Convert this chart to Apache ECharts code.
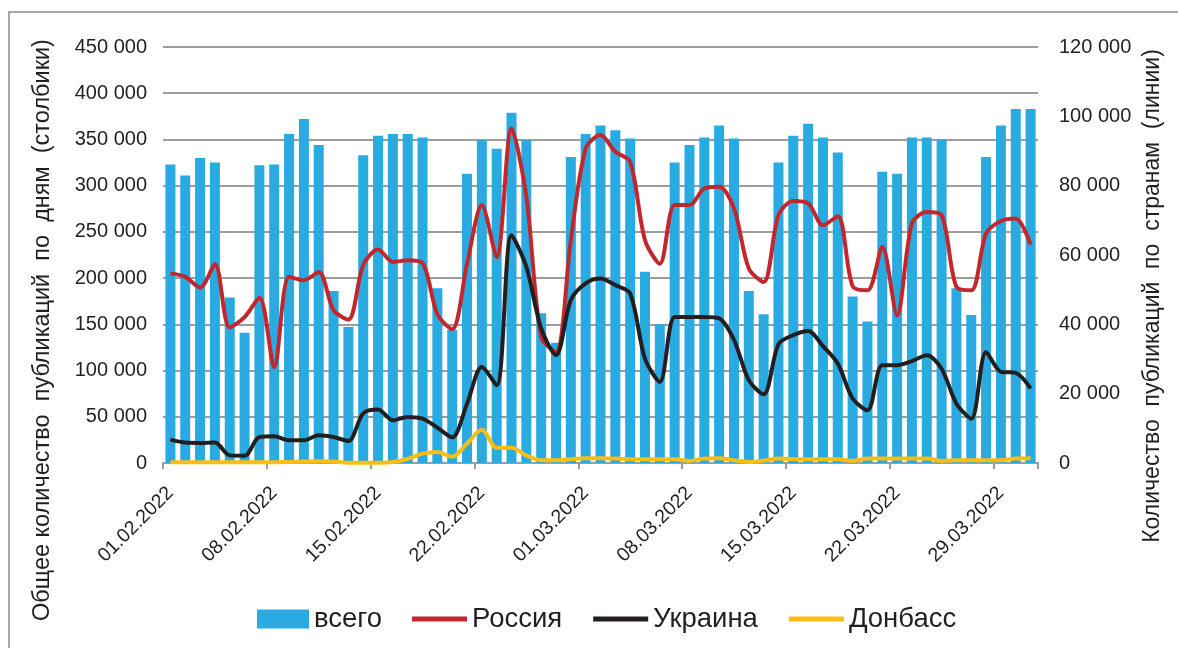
<!DOCTYPE html>
<html>
<head>
<meta charset="utf-8">
<script src="https://cdn.jsdelivr.net/npm/echarts@6/dist/echarts.min.js"></script>
<style>
html,body{margin:0;padding:0;background:#fff;}
#chart{width:1178px;height:648px;}
</style>
</head>
<body>
<div id="chart"></div>
<script>
// даты 01.02.2022 - 31.03.2022
var dates = [];
(function(){
    var months = [[2, 28], [3, 31]];
    for (var m = 0; m < months.length; m++) {
        for (var d = 1; d <= months[m][1]; d++) {
            dates.push((d < 10 ? '0' : '') + d + '.0' + months[m][0] + '.2022');
        }
    }
})();

// всего (столбики)
var totalVals = [
    323000, 311000, 330000, 325000, 179000, 141000, 322000, 323000, 356000, 372000,
    344000, 186000, 147000, 333000, 354000, 356000, 356000, 352000, 189000, 144000,
    313000, 349000, 340000, 379000, 349000, 162000, 130000, 331000,
    356000, 365000, 360000, 351000, 207000, 150000, 325000, 344000, 352000, 365000,
    351000, 186000, 161000, 325000, 354000, 367000, 352000, 336000, 180000, 153000,
    315000, 313000, 352000, 352000, 350000, 189000, 160000, 331000, 365000, 383000, 383000
];
// Россия
var russiaVals = [
    54700, 53700, 50600, 57300, 39100, 42100, 47700, 27700, 53700, 52700,
    55100, 44100, 41400, 57100, 61600, 58000, 58500, 57700, 42900, 38600,
    57500, 74400, 59400, 96500, 76800, 36400, 32000, 64300,
    90700, 94600, 89800, 86900, 64300, 57500, 74400, 74400, 79200, 79700,
    73500, 56100, 52200, 71500, 75600, 74900, 68600, 71200, 51000, 49800,
    62300, 42600, 69100, 72400, 71500, 50800, 49800, 66200, 69800, 70500, 63000
];
// Украина
var ukraineVals = [
    6750, 5900, 5800, 5900, 2200, 2100, 7500, 7700, 6550, 6550,
    8000, 7500, 6350, 14300, 15400, 12300, 13300, 12800, 10200, 7400,
    17100, 27700, 22400, 65700, 56600, 38800, 31100, 47000,
    51800, 53200, 51300, 48900, 30100, 23400, 42100, 42100, 42100, 41700,
    35500, 23900, 19800, 34300, 36900, 38100, 33700, 28700, 18600, 15200,
    28200, 28200, 29400, 31100, 27200, 17100, 12800, 32000, 26300, 26000, 21500
];
// Донбасс
var donbassVals = [
    200, 200, 200, 200, 200, 200, 200, 200, 300, 400,
    500, 400, 100, 100, 100, 300, 1200, 2700, 3200, 1800,
    5600, 9600, 4400, 4400, 2200, 800, 800, 1100,
    1400, 1400, 1300, 1100, 1100, 1100, 1100, 600, 1300, 1400,
    800, 300, 700, 1300, 1100, 1100, 1100, 1100, 600, 1300,
    1300, 1300, 1300, 1300, 600, 800, 800, 800, 800, 1300, 1400
];

var TXT = '#231f20';
var GRID_C = '#9d9d9d';

function fmt_num(v){
    return String(v).replace(/\B(?=(\d{3})+(?!\d))/g, ' ');
}

var chart = echarts.init(document.getElementById('chart'));
var option = {
    animation: false,
    textStyle: {fontFamily: 'Liberation Sans, Arial, sans-serif'},
    grid: {left: 163, right: 140, top: 47, bottom: 185, containLabel: false},
    graphic: [
        {type: 'rect', shape: {x: 9, y: 12, width: 1300, height: 800},
            style: {fill: 'none', stroke: '#8c8c8c', lineWidth: 1.5}, silent: true},
        {type: 'text', x: 43, y: 330, rotation: Math.PI / 2,
            style: {text: 'Общее количество  публикаций  по  дням  (столбики)', fill: TXT,
                font: '23.5px "Liberation Sans", Arial, sans-serif', align: 'center', verticalAlign: 'middle'}},
        {type: 'text', x: 1153, y: 296, rotation: Math.PI / 2,
            style: {text: 'Количество  публикаций  по  странам  (линии)', fill: TXT,
                font: '23px "Liberation Sans", Arial, sans-serif', align: 'center', verticalAlign: 'middle'}}
    ],
    legend: [
        {data: ['всего'], left: 252, top: 600, itemWidth: 52, itemHeight: 19, icon: 'rect',
            textStyle: {fontSize: 27.5, color: TXT}},
        {data: ['Россия', 'Украина', 'Донбасс'], left: 407, top: 600, itemWidth: 55, itemHeight: 5,
            icon: 'rect', itemGap: 31, textStyle: {fontSize: 27.5, color: TXT}}
    ],
    xAxis: {
        type: 'category', data: dates, boundaryGap: true,
        axisLine: {lineStyle: {color: GRID_C, width: 2}},
        axisTick: {show: true, interval: 6, length: 6, lineStyle: {color: GRID_C, width: 2}},
        axisLabel: {interval: 6, rotate: 45, fontSize: 19.5, margin: 27, color: TXT}
    },
    yAxis: [
        {type: 'value', min: 0, max: 450000, interval: 50000,
            axisLine: {show: false}, axisTick: {show: false},
            splitLine: {lineStyle: {color: GRID_C, width: 2}},
            axisLabel: {fontSize: 20, color: TXT, margin: 16, formatter: fmt_num}},
        {type: 'value', min: 0, max: 120000, interval: 20000, position: 'right',
            axisLine: {show: false}, axisTick: {show: false}, splitLine: {show: false},
            axisLabel: {fontSize: 20, color: TXT, margin: 21, formatter: fmt_num}}
    ],
    series: [
        {name: 'всего', type: 'bar', data: totalVals, barWidth: 10, itemStyle: {color: '#29abe2'}},
        {name: 'Россия', type: 'line', yAxisIndex: 1, data: russiaVals, smooth: 0.3, showSymbol: false,
            lineStyle: {color: '#c1272d', width: 4}, itemStyle: {color: '#c1272d'}},
        {name: 'Украина', type: 'line', yAxisIndex: 1, data: ukraineVals, smooth: 0.3, showSymbol: false,
            lineStyle: {color: '#231f20', width: 4}, itemStyle: {color: '#231f20'}},
        {name: 'Донбасс', type: 'line', yAxisIndex: 1, data: donbassVals, smooth: 0.3, showSymbol: false,
            lineStyle: {color: '#fbbd14', width: 4}, itemStyle: {color: '#fbbd14'}}
    ]
};
chart.setOption(option);
</script>
</body>
</html>
